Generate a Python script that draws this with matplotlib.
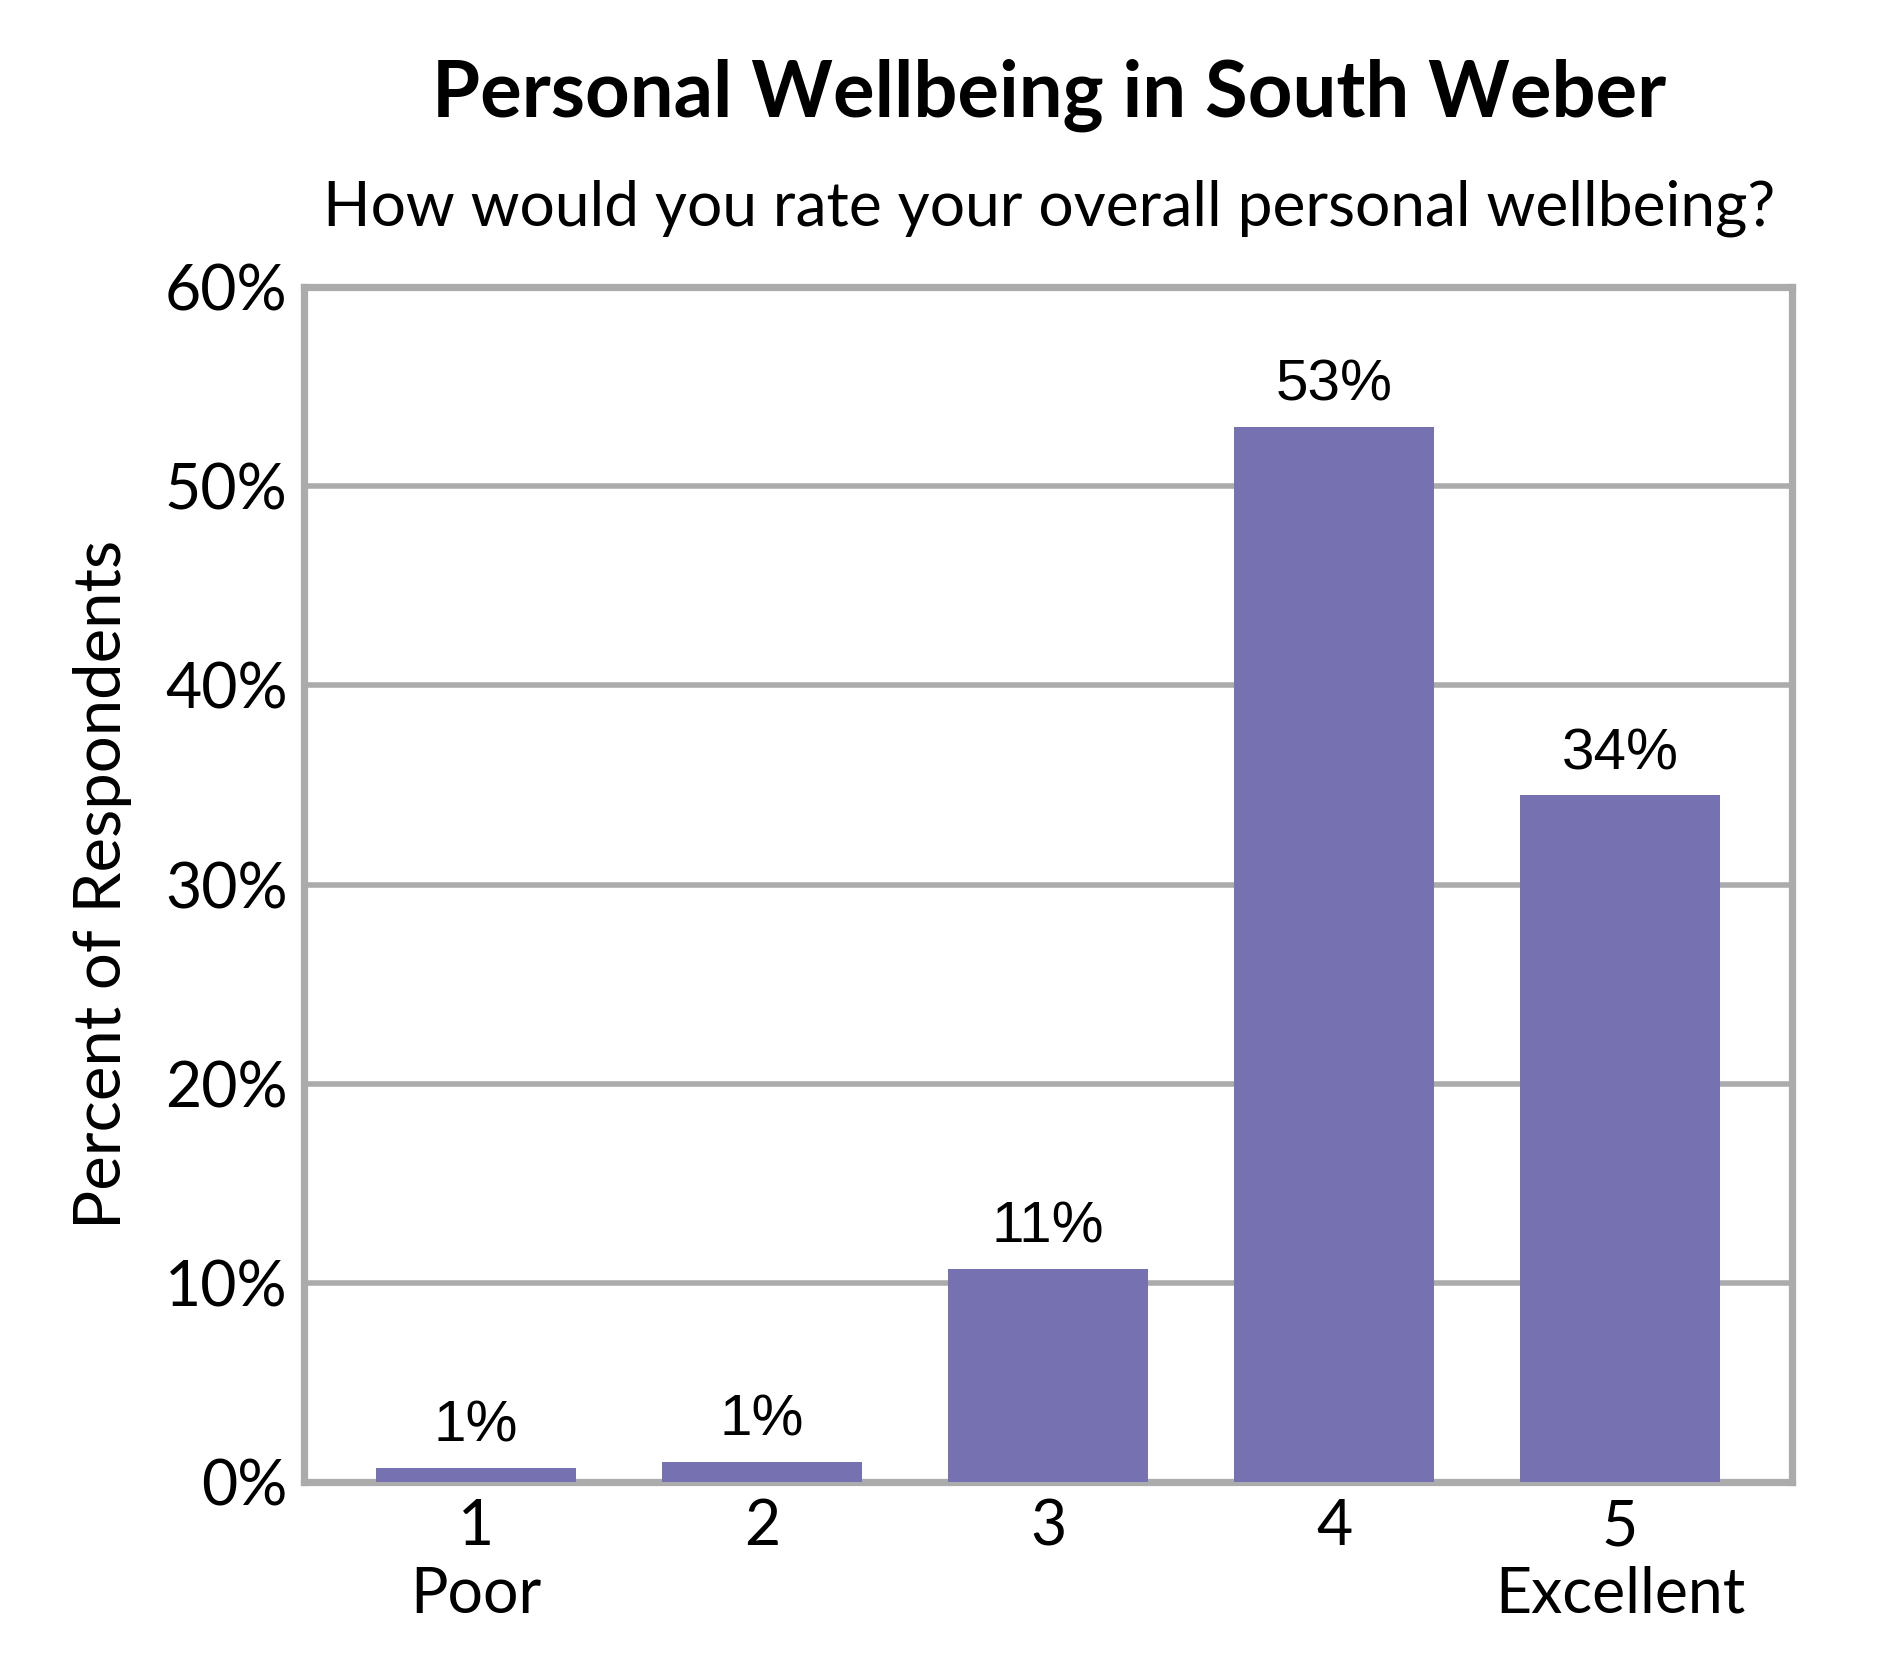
import matplotlib.pyplot as plt

categories = [1, 2, 3, 4, 5]
tick_labels = ['1\nPoor', '2', '3', '4', '5\nExcellent']
values = [0.7, 1.0, 10.7, 53.0, 34.5]
value_labels = ['1%', '1%', '11%', '53%', '34%']
yticks = [0, 10, 20, 30, 40, 50, 60]

plt.rcParams['font.family'] = ['Lato', 'DejaVu Sans']

grey = '#ABABAB'
bar_color = '#7672B2'

fig = plt.figure(figsize=(9.45, 8.4), dpi=200)
ax = fig.add_axes([0.161, 0.118, 0.787, 0.711])

ax.bar(categories, values, width=0.7, color=bar_color, zorder=3)
for x, v, lab in zip(categories, values, value_labels):
    ax.annotate(lab, (x, v), xytext=(0, 5), textcoords='offset points',
                ha='center', va='bottom', fontsize=21,
                family=['Liberation Sans', 'DejaVu Sans'])

ax.set_xlim(0.4, 5.6)
ax.set_ylim(0, 60)
ax.set_yticks(yticks)
ax.set_yticklabels([f'{t}%' for t in yticks], fontsize=22.5)
ax.set_xticks(categories)
ax.set_xticklabels(tick_labels, fontsize=22.5, linespacing=1.2)
ax.tick_params(axis='both', length=0, pad=6)
ax.tick_params(axis='x', pad=6)

ax.yaxis.grid(True, color=grey, linewidth=2.0, zorder=0)
for s in ax.spines.values():
    s.set_color(grey)
    s.set_linewidth(2.6)

ax.set_ylabel('Percent of Respondents', fontsize=23.5, labelpad=12)

fig.text(0.555, 0.943, 'Personal Wellbeing in South Weber', ha='center', va='center',
         fontsize=28, fontweight='bold')
fig.text(0.555, 0.876, 'How would you rate your overall personal wellbeing?', ha='center',
         va='center', fontsize=22.4)

fig.savefig('out.png', dpi=200, facecolor='white')
